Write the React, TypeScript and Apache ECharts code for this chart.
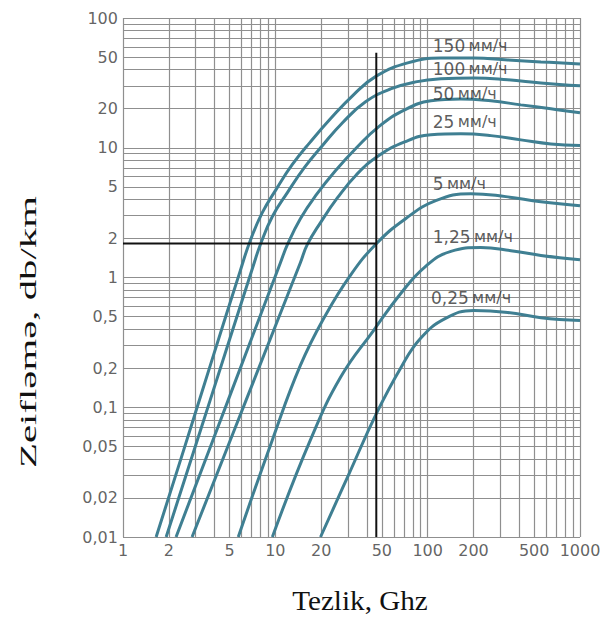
import React, { useEffect, useRef } from "react";
import * as echarts from "echarts";

// ---- data ----
const curveNames = ["150 мм/ч", "100 мм/ч", "50 мм/ч", "25 мм/ч", "5 мм/ч", "1,25 мм/ч", "0,25 мм/ч"];

const rain150 = [[1.65, 0.01], [2.52, 0.048], [3.85, 0.234], [5.89, 1.13], [6.85, 1.93], [8.21, 3.16], [10.2, 4.84], [12.9, 7.4], [17, 11.1], [23, 16.7], [32.6, 25.6], [46.2, 35.8], [73.9, 45.1], [122, 49.2], [201, 49.2], [336, 47.5], [554, 45.9], [1000, 44.3]];
const rain100 = [[1.92, 0.01], [3.74, 0.114], [7.27, 1.3], [7.97, 1.79], [9.56, 2.95], [12, 4.51], [15.5, 7.02], [20.4, 10.4], [27.6, 15.6], [39.1, 22.6], [57.1, 28.4], [83.4, 32.2], [122, 34], [201, 34.5], [336, 33.4], [554, 31.6], [1000, 30]];
const rain50 = [[2.23, 0.01], [4.91, 0.114], [10.8, 1.3], [12, 1.79], [14.6, 2.84], [18.6, 4.35], [24.8, 6.65], [34.1, 10], [47.6, 14.5], [70.6, 19.6], [105, 23], [165, 23.8], [260, 23], [409, 21.4], [644, 19.95], [1000, 18.6]];
const rain25 = [[2.84, 0.01], [6.44, 0.114], [14.6, 1.3], [16.2, 1.79], [19.8, 2.65], [25.6, 4.12], [34.1, 6.2], [47.6, 8.67], [70.6, 11.1], [105, 12.6], [165, 12.8], [260, 12.4], [409, 11.5], [644, 10.7], [1000, 10.4]];
const rain5 = [[5.71, 0.01], [9.56, 0.056], [14.6, 0.21], [21.3, 0.51], [31.1, 1.04], [46.2, 1.83], [71.6, 2.84], [113, 3.91], [192, 4.43], [326, 4.2], [554, 3.84], [1000, 3.58]];
const rain125 = [[9.56, 0.01], [17, 0.056], [26.8, 0.17], [44.1, 0.39], [66.4, 0.75], [97, 1.22], [142, 1.59], [223, 1.7], [352, 1.61], [554, 1.48], [1000, 1.37]];
const rain025 = [[19.8, 0.01], [30.2, 0.03], [46.2, 0.09], [66.4, 0.2], [89.9, 0.34], [131, 0.484], [201, 0.557], [336, 0.538], [554, 0.49], [1000, 0.466]];
const curveData = [rain150, rain100, rain50, rain25, rain5, rain125, rain025];

// label anchor points (data coordinates)
const curveLabelAnchors = [[108, 60.9], [108, 40.5], [108, 26.0], [108, 15.8], [108, 5.28], [108, 2.07], [105, 0.7]];

// crosshair reading
const markFreq = 46;
const markAtten = 1.83;
const markTop = 54;

const xTickValues = [1, 2, 5, 10, 20, 50, 100, 200, 500, 1000];
const xTickLabels = ["1", "2", "5", "10", "20", "50", "100", "200", "500", "1000"];
const yTickValues = [0.01, 0.02, 0.05, 0.1, 0.2, 0.5, 1, 2, 5, 10, 20, 50, 100];
const yTickLabels = ["0,01", "0,02", "0,05", "0,1", "0,2", "0,5", "1", "2", "5", "10", "20", "50", "100"];

const xMin = 1, xMax = 1000, yMin = 0.01, yMax = 100;
const gridMultipliers = [1, 2, 3, 4, 5, 6, 7, 8, 9];
const xDecades = [1, 10, 100];
const yDecades = [0.01, 0.1, 1, 10];

export default function App() {
  const ref = useRef<HTMLDivElement>(null);
  useEffect(() => {
    if (!ref.current) return;
    const chart = echarts.init(ref.current, undefined, { renderer: "svg" });

    const xGrid: number[] = [];
    xDecades.forEach((d) => gridMultipliers.forEach((m) => xGrid.push(+(d * m).toPrecision(6))));
    xGrid.push(xMax);
    const yGrid: number[] = [];
    yDecades.forEach((d) => gridMultipliers.forEach((m) => yGrid.push(+(d * m).toPrecision(6))));
    yGrid.push(yMax);

    const curveColor = "#3f7f92";
    const tickFont = { color: "#3a3a3a", fontSize: 16, fontFamily: "DejaVu Sans" };

    const series: any[] = [];
    series.push({
      type: "line",
      data: [],
      silent: true,
      markLine: {
        silent: true,
        z: 1,
        symbol: "none",
        label: { show: false },
        lineStyle: { color: "#8f8f8f", width: 1.2, type: "solid" },
        data: [...xGrid.map((v) => ({ xAxis: v })), ...yGrid.map((v) => ({ yAxis: v }))],
      },
    });
    curveData.forEach((d, i) => {
      series.push({
        name: curveNames[i],
        type: "line",
        data: d,
        showSymbol: false,
        smooth: 0.45,
        z: 3,
        lineStyle: { color: curveColor, width: 3 },
      });
    });
    series.push({
      type: "line",
      data: [[markFreq, yMin], [markFreq, markTop]],
      showSymbol: false,
      z: 4,
      lineStyle: { color: "#111", width: 2 },
    });
    series.push({
      type: "line",
      data: [[xMin, markAtten], [markFreq, markAtten]],
      showSymbol: false,
      z: 4,
      lineStyle: { color: "#111", width: 2 },
    });
    series.push({
      type: "scatter",
      data: xTickValues.map((v) => [v, yMin]),
      symbolSize: 0.1,
      itemStyle: { color: "transparent" },
      silent: true,
      clip: false,
      label: {
        show: true,
        position: "bottom",
        distance: 5,
        formatter: (p: any) => xTickLabels[p.dataIndex],
        ...tickFont,
      },
    });
    series.push({
      type: "scatter",
      data: yTickValues.map((v) => [xMin, v]),
      symbolSize: 0.1,
      itemStyle: { color: "transparent" },
      silent: true,
      clip: false,
      label: {
        show: true,
        position: "left",
        distance: 5,
        formatter: (p: any) => yTickLabels[p.dataIndex],
        ...tickFont,
      },
    });
    series.push({
      type: "scatter",
      data: curveLabelAnchors,
      symbolSize: 0.1,
      itemStyle: { color: "transparent" },
      silent: true,
      clip: false,
      z: 5,
      label: {
        show: true,
        position: "right",
        distance: 0,
        formatter: (p: any) => {
          const parts = curveNames[p.dataIndex].split(" ");
          return "{n|" + parts[0] + "} {u|" + parts[1] + "}";
        },
        rich: {
          n: { fontSize: 17, color: "#333", fontFamily: "DejaVu Sans" },
          u: { fontSize: 16, color: "#333", fontFamily: "DejaVu Sans" },
        },
      },
    });

    chart.setOption({
      animation: false,
      backgroundColor: "#ffffff",
      grid: { left: 123, right: 31, top: 18, bottom: 82 },
      xAxis: {
        type: "log",
        logBase: 10,
        min: xMin,
        max: xMax,
        axisLabel: { show: false },
        axisTick: { show: false },
        axisLine: { show: false },
        splitLine: { show: false },
      },
      yAxis: {
        type: "log",
        logBase: 10,
        min: yMin,
        max: yMax,
        axisLabel: { show: false },
        axisTick: { show: false },
        axisLine: { show: false },
        splitLine: { show: false },
      },
      graphic: [
        {
          type: "text",
          x: 28,
          y: 332,
          rotation: Math.PI / 2,
          scaleX: 1.7,
          style: {
            text: "Zeifləmə, db/km",
            font: '24px "Liberation Serif"',
            fill: "#111",
            align: "center",
            verticalAlign: "middle",
          },
        },
        {
          type: "text",
          x: 360,
          y: 601,
          scaleX: 1.08,
          style: {
            text: "Tezlik, Ghz",
            font: '27px "Liberation Serif"',
            fill: "#111",
            align: "center",
            verticalAlign: "middle",
          },
        },
      ],
      series,
    });
    return () => chart.dispose();
  }, []);
  return (
    <div
      ref={ref}
      style={{ position: "fixed", left: 0, top: 0, width: 611, height: 619, background: "#fff" }}
    />
  );
}
